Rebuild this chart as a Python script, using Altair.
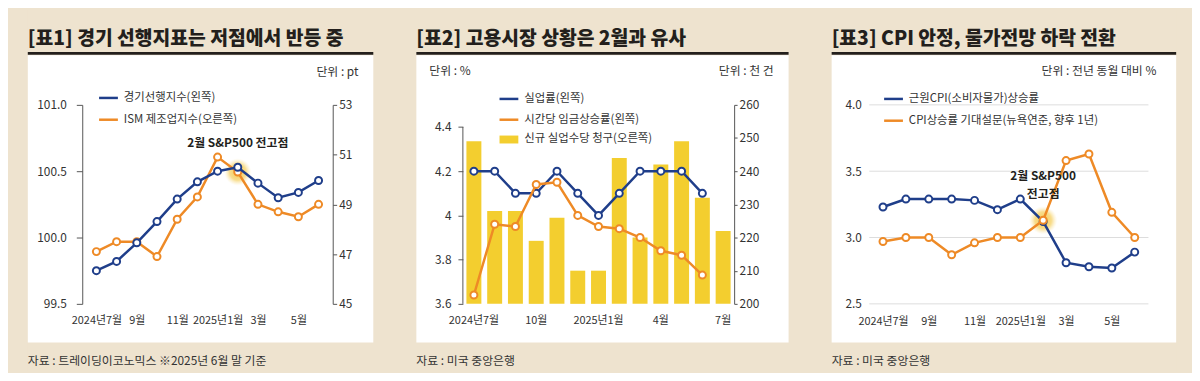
import altair as alt
import pandas as pd

FONT = "Noto Sans CJK KR"
BLUE = "#1F3E8A"
ORANGE = "#EE8A26"
YELLOW = "#F3CE2F"
BG = "#EEE3CF"
INK = "#231F1C"
TXT = "#333333"
AX = "#555555"
H = 201

# ---------------- data: panel 1 ----------------
p1_title = "[표1] 경기 선행지표는 저점에서 반등 중"
p1_unit = "단위 : pt"
p1_source = "자료 : 트레이딩이코노믹스 ※2025년 6월 말 기준"
p1_legend = ["경기선행지수(왼쪽)", "ISM 제조업지수(오른쪽)"]
p1_note = "2월 S&P500 전고점"
p1_months = ["2024년7월", "8월", "9월", "10월", "11월", "12월",
             "2025년1월", "2월", "3월", "4월", "5월", "6월"]
p1_xticks = ["2024년7월", "9월", "11월", "2025년1월", "3월", "5월"]
p1_lei = [99.75, 99.82, 99.96, 100.12, 100.29, 100.42,
          100.50, 100.53, 100.41, 100.30, 100.34, 100.43]
p1_ism = [47.1, 47.5, 47.5, 46.9, 48.4, 49.3,
          50.9, 50.3, 49.0, 48.7, 48.5, 49.0]
p1_lticks = [99.5, 100.0, 100.5, 101.0]
p1_rticks = [45, 47, 49, 51, 53]
p1_peak = ["2월"]

# ---------------- data: panel 2 ----------------
p2_title = "[표2] 고용시장 상황은 2월과 유사"
p2_unit_l = "단위 : %"
p2_unit_r = "단위 : 천 건"
p2_source = "자료 : 미국 중앙은행"
p2_legend = ["실업률(왼쪽)", "시간당 임금상승률(왼쪽)", "신규 실업수당 청구(오른쪽)"]
p2_months = ["2024년7월", "8월", "9월", "10월", "11월", "12월",
             "2025년1월", "2월", "3월", "4월", "5월", "6월", "7월"]
p2_xticks = ["2024년7월", "10월", "2025년1월", "4월", "7월"]
p2_claims = [249, 228, 228, 219, 226, 210, 210, 244, 220, 242, 249, 232, 222]
p2_line_months = p2_months[:12]
p2_unemp = [4.2, 4.2, 4.1, 4.1, 4.2, 4.1, 4.0, 4.1, 4.2, 4.2, 4.2, 4.1]
p2_wage = [3.64, 3.96, 3.95, 4.14, 4.15, 4.00, 3.95, 3.94, 3.90, 3.84, 3.82, 3.73]
p2_lticks = [3.6, 3.8, 4.0, 4.2, 4.4]
p2_rticks = [200, 210, 220, 230, 240, 250, 260]

# ---------------- data: panel 3 ----------------
p3_title = "[표3] CPI 안정, 물가전망 하락 전환"
p3_unit = "단위 : 전년 동월 대비 %"
p3_source = "자료 : 미국 중앙은행"
p3_legend = ["근원CPI(소비자물가)상승률", "CPI상승률 기대설문(뉴욕연준, 향후 1년)"]
p3_note = ["2월 S&P500", "전고점"]
p3_months = p1_months
p3_xticks = p1_xticks
p3_core = [3.23, 3.29, 3.29, 3.29, 3.28, 3.21, 3.29, 3.12, 2.81, 2.78, 2.77, 2.89]
p3_expect = [2.97, 3.00, 3.00, 2.87, 2.96, 3.00, 3.00, 3.13, 3.58, 3.63, 3.19, 3.00]
p3_yticks = [2.5, 3.0, 3.5, 4.0]
p3_peak = ["2월"]

one = pd.DataFrame({"k": [0]})
GLOW = {"gradient": "radial",
        "stops": [{"offset": 0, "color": "rgba(244,200,80,1)"},
                  {"offset": 0.6, "color": "rgba(246,212,110,0.8)"},
                  {"offset": 1, "color": "rgba(250,232,180,0)"}]}


def txt(s, x, y, align="left", size=12, weight="normal", color=TXT, baseline="middle"):
    return alt.Chart(pd.DataFrame({"t": [s]})).mark_text(
        align=align, baseline=baseline, font=FONT, fontSize=size,
        fontWeight=weight, color=color).encode(
        x=alt.value(x), y=alt.value(y), text="t:N")


def frame(wl, wr, title, source):
    f = alt.Chart(one).mark_rect(color=BG).encode(
        x=alt.value(wl), x2=alt.value(wr), y=alt.value(-96), y2=alt.value(269))
    w = alt.Chart(one).mark_rect(color="white").encode(
        x=alt.value(wl), x2=alt.value(wr), y=alt.value(-50), y2=alt.value(240))
    r = alt.Chart(one).mark_rule(color=INK, strokeWidth=3).encode(
        x=alt.value(wl), x2=alt.value(wr), y=alt.value(-52))
    t = txt(title, wl, -60, size=19.5, weight=900, color=INK, baseline="alphabetic")
    s = txt(source, wl, 259, size=12, color=TXT)
    return [f, w, r, t, s]


def leg_line(x0, y, color, label):
    ln = alt.Chart(one).mark_rule(color=color, strokeWidth=2.5).encode(
        x=alt.value(x0), x2=alt.value(x0 + 19), y=alt.value(y))
    return [ln, txt(label, x0 + 25, y, size=11.5)]


def xaxis(vals, pad):
    return alt.Axis(values=vals, title=None, labelAngle=0, domain=False, ticks=False,
                    labelPadding=pad, labelFont=FONT, labelFontSize=11, zindex=1,
                    labelColor=TXT, labelOverlap=False)


def yaxis(vals, orient, fmt, tick=5, pad=8, domain=True):
    return alt.Axis(values=vals, title=None, orient=orient, format=fmt, grid=False,
                    domain=domain, domainColor=AX, ticks=True, tickColor=AX, tickSize=tick,
                    labelPadding=pad, labelFont=FONT, labelFontSize=12, labelColor=TXT,
                    zindex=1)


def line_pts(df, x, ycol, yenc, color):
    base = alt.Chart(df)
    ln = base.mark_line(color=color, strokeWidth=2.5).encode(x=x, y=yenc)
    pt = base.mark_point(filled=True, fill="white", stroke=color, strokeWidth=2,
                         size=50, opacity=1).encode(x=x, y=alt.Y(f"{ycol}:Q"))
    return [ln, pt]


# ---------------- panel 1 ----------------
W1 = 253
d1 = pd.DataFrame({"m": p1_months, "lei": p1_lei, "ism": p1_ism})
x1 = alt.X("m:O", sort=p1_months, scale=alt.Scale(type="point", padding=0.7),
           axis=xaxis(p1_xticks, 11))
y1l = alt.Y("lei:Q", scale=alt.Scale(domain=[99.5, 101.0], nice=False, zero=False),
            axis=yaxis(p1_lticks, "left", ".1f", tick=6, pad=10))
y1r = alt.Y("ism:Q", scale=alt.Scale(domain=[45, 53], nice=False, zero=False),
            axis=yaxis(p1_rticks, "right", "d", tick=4, pad=2))
d1peak = d1[d1["m"].isin(p1_peak)].assign(note=p1_note)
glow1 = alt.Chart(d1peak).mark_circle(size=750, fill=GLOW, opacity=1).encode(x=x1, y=y1r)
note1 = alt.Chart(d1peak).mark_text(font=FONT, fontSize=12, fontWeight="bold",
                                    color=INK, dy=-29).encode(x=x1, y="ism:Q", text="note:N")
left1 = alt.layer(*line_pts(d1, x1, "lei", y1l, BLUE))
right1 = alt.layer(glow1, *line_pts(d1, x1, "ism", y1r, ORANGE), note1)
p1 = alt.layer(
    *frame(-55, 294, p1_title, p1_source),
    txt(p1_unit, 279, -33, align="right"),
    *leg_line(17, -7, BLUE, p1_legend[0]),
    *leg_line(17, 15, ORANGE, p1_legend[1]),
    right1, left1,
).resolve_scale(y="independent").properties(width=W1, height=H)

# ---------------- panel 2 ----------------
W2 = 274
d2b = pd.DataFrame({"m": p2_months, "claims": p2_claims})
d2l = pd.DataFrame({"m": p2_line_months, "unemp": p2_unemp, "wage": p2_wage})
x2 = alt.X("m:O", sort=p2_months,
           scale=alt.Scale(type="band", paddingInner=0.28, paddingOuter=0.17),
           axis=xaxis(p2_xticks, 11))
y2r = alt.Y("claims:Q", scale=alt.Scale(domain=[200, 260], nice=False, zero=False),
            axis=yaxis(p2_rticks, "right", "d", tick=3, pad=2))
bars = alt.Chart(d2b).mark_bar(color=YELLOW).encode(x=x2, y=y2r, y2=alt.datum(200))
y2l = alt.Y("unemp:Q", scale=alt.Scale(domain=[3.6, 4.5], nice=False, zero=False),
            axis=yaxis(p2_lticks, "left", "~g", tick=5, pad=7, domain=False))
axis_rule = alt.Chart(one).mark_rule(color=AX).encode(
    x=alt.value(0), y=alt.datum(3.6), y2=alt.datum(4.4))
left2 = alt.layer(axis_rule, *line_pts(d2l, x2, "unemp", y2l, BLUE),
                  *line_pts(d2l, x2, "wage", alt.Y("wage:Q"), ORANGE))
leg_bar = alt.Chart(one).mark_rect(color=YELLOW).encode(
    x=alt.value(37), x2=alt.value(56), y=alt.value(31), y2=alt.value(39))
p2 = alt.layer(
    *frame(-47, 329, p2_title, p2_source),
    txt(p2_unit_l, -34, -34),
    txt(p2_unit_r, 314, -34, align="right"),
    bars,
    left2,
    *leg_line(37, -6, BLUE, p2_legend[0]),
    *leg_line(37, 15, ORANGE, p2_legend[1]),
    leg_bar, txt(p2_legend[2], 62, 35, size=11.5),
).resolve_scale(y="independent").properties(width=W2, height=H)

# ---------------- panel 3 ----------------
W3 = 282
d3 = pd.DataFrame({"m": p3_months, "core": p3_core, "exp": p3_expect})
d3grid = pd.DataFrame({"g": p3_yticks})
x3 = alt.X("m:O", sort=p3_months, scale=alt.Scale(type="point", padding=0.6),
           axis=xaxis(p3_xticks, 12))
y3 = alt.Y("core:Q", scale=alt.Scale(domain=[2.5, 4.0], nice=False, zero=False),
           axis=alt.Axis(values=p3_yticks, title=None, format=".1f", grid=False,
                         domain=False, ticks=False, zindex=1,
                         labelPadding=8, labelFont=FONT, labelFontSize=12, labelColor=TXT))
grid3 = alt.Chart(d3grid).mark_rule(color="#DDDDDD", strokeWidth=1).encode(
    y=alt.Y("g:Q"), x=alt.value(0), x2=alt.value(W3))
d3peak = d3[d3["m"].isin(p3_peak)].assign(n1=p3_note[0], n2=p3_note[1])
glow3 = alt.Chart(d3peak).mark_circle(size=800, fill=GLOW, opacity=1).encode(x=x3, y=alt.Y("exp:Q"))
n31 = alt.Chart(d3peak).mark_text(font=FONT, fontSize=12, fontWeight="bold", color=INK,
                                  dy=-45).encode(x=x3, y="exp:Q", text="n1:N")
n32 = alt.Chart(d3peak).mark_text(font=FONT, fontSize=12, fontWeight="bold", color=INK,
                                  dy=-27).encode(x=x3, y="exp:Q", text="n2:N")
data3 = alt.layer(grid3, glow3, *line_pts(d3, x3, "core", y3, BLUE),
                  *line_pts(d3, x3, "exp", alt.Y("exp:Q"), ORANGE), n31, n32)
p3 = alt.layer(
    *frame(-38, 310, p3_title, p3_source),
    txt(p3_unit, 290, -34, align="right"),
    *leg_line(15, -6, BLUE, p3_legend[0]),
    *leg_line(15, 16, ORANGE, p3_legend[1]),
    data3,
).properties(width=W3, height=H)

chart = alt.hconcat(p1, p2, p3, spacing=39.5).properties(
    padding={"left": 18, "top": 0, "right": 14, "bottom": 0},
    background=BG,
).configure_view(strokeWidth=0)

chart.save("out.html", embed_options={"renderer": "svg", "actions": False})
